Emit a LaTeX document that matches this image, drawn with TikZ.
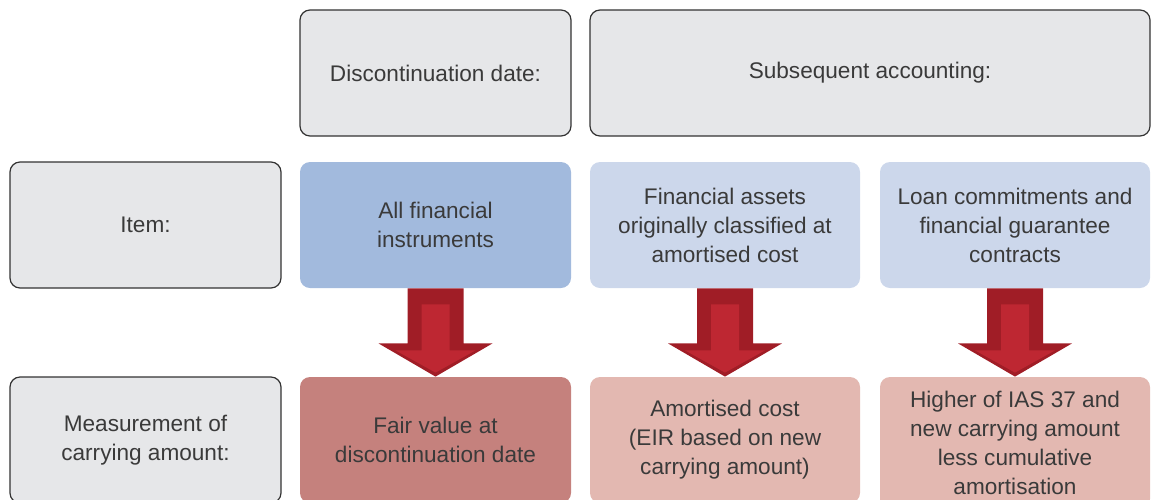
\documentclass[tikz,border=0pt]{standalone}
\usepackage{fontspec}
\setmainfont{Liberation Sans}
\usetikzlibrary{calc}
\definecolor{greybox}{HTML}{E6E7E9}
\definecolor{greyline}{HTML}{333333}
\definecolor{txt}{HTML}{3A3A3A}
\definecolor{bluedark}{HTML}{A2BADD}
\definecolor{bluelight}{HTML}{CCD7EB}
\definecolor{reddark}{HTML}{C5817D}
\definecolor{redlight}{HTML}{E3B8B1}
\definecolor{arrowdark}{HTML}{A01D26}
\definecolor{arrowlight}{HTML}{BE2732}
\tikzset{
  box/.style={rounded corners=5pt, minimum width=135.5pt, minimum height=63pt,
    inner sep=0pt, align=center, text=txt,
    font=\fontsize{11.3}{14.5}\selectfont},
  greyb/.style={box, fill=greybox, draw=greyline, line width=0.6pt},
  colb/.style={box, draw=none},
}
\begin{document}
\begin{tikzpicture}[x=0.5pt,y=-0.5pt]
\useasboundingbox (0,0) rectangle (1155,499);
\begin{scope}
\clip (0,0) rectangle (1155,499);
% top row
\node[greyb] (disc) at (435.5,73) {Discontinuation date:};
\node[greyb, minimum width=280pt] (subs) at (870,73) {Subsequent accounting:};
% middle row
\node[greyb] (item) at (145.5,225) {Item:};
\node[colb, fill=bluedark] (allfin) at (435.5,225) {All financial\\instruments};
\node[colb, fill=bluelight, minimum width=135pt] (finass) at (725,225) {Financial assets\\originally classified at\\amortised cost};
\node[colb, fill=bluelight, minimum width=135pt] (loan) at (1015,225) {Loan commitments and\\financial guarantee\\contracts};
% bottom row
\node[greyb] (meas) at (145.5,440) {Measurement of\\carrying amount:};
\node[colb, fill=reddark] (fair) at (435.5,440) {Fair value at\\discontinuation date};
\node[colb, fill=redlight, minimum width=135pt] (amort) at (725,440) {Amortised cost\\(EIR based on new\\carrying amount)};
\node[colb, fill=redlight, minimum width=135pt, minimum height=66pt] (higher) at (1015,443) {Higher of IAS 37 and\\new carrying amount\\less cumulative\\amortisation};
% arrows
\foreach \a/\b in {allfin/fair, finass/amort, loan/higher}{
  \fill[arrowdark]
    ($(\a.south)+(-28,0)$) -- ($(\a.south)+(28,0)$)
    -- ($(\a.south)+(28,55)$) -- ($(\a.south)+(57,55)$)
    -- ($(\a.south |- \b.north)$)
    -- ($(\a.south)+(-57,55)$) -- ($(\a.south)+(-28,55)$) -- cycle;
  \fill[arrowlight]
    ($(\a.south)+(-14,16)$) -- ($(\a.south)+(14,16)$)
    -- ($(\a.south)+(14,62)$) -- ($(\a.south)+(40,62)$)
    -- ($(\a.south |- \b.north)+(0,-4)$)
    -- ($(\a.south)+(-40,62)$) -- ($(\a.south)+(-14,62)$) -- cycle;
}
\end{scope}
\end{tikzpicture}
\end{document}
